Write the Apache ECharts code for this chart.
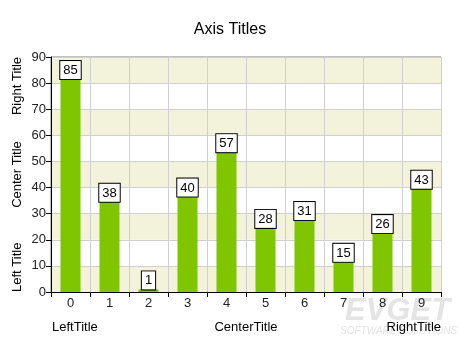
<!DOCTYPE html>
<html>
<head>
<meta charset="utf-8">
<script src="https://cdn.jsdelivr.net/npm/echarts@6/dist/echarts.min.js"></script>
<style>html,body{margin:0;padding:0;background:#fff}#c{width:460px;height:345px}</style>
</head>
<body>
<div id="c"></div>
<script>
var categories = ['0','1','2','3','4','5','6','7','8','9'];
var values = [85, 38, 1, 40, 57, 28, 31, 15, 26, 43];
var yMin = 0, yMax = 90, yInterval = 10;
var chartTitle = 'Axis Titles';
var yTitles = ['Left Title', 'Center Title', 'Right Title'];
var xTitles = ['LeftTitle', 'CenterTitle', 'RightTitle'];

var FONT = 'Liberation Sans, Arial, sans-serif';
var G = {left: 51, right: 441, top: 57, bottom: 292};

var chart = echarts.init(document.getElementById('c'), null, {renderer: 'canvas'});

var barData = values.map(function (v) {
  // labels are centred on the bar top unless that would push them below the axis
  var small = v < 4;
  return {value: v, label: {distance: small ? 0 : -9}};
});

chart.setOption({
  animation: false,
  backgroundColor: '#ffffff',
  title: {
    text: chartTitle, left: 'center', top: 17,
    textStyle: {fontFamily: FONT, fontSize: 16, fontWeight: 'normal', color: '#000'}
  },
  grid: {
    left: G.left, right: 460 - G.right, top: G.top, bottom: 345 - G.bottom,
    show: true, borderColor: '#808080', borderWidth: 1, backgroundColor: 'transparent'
  },
  xAxis: {
    type: 'category', data: categories, boundaryGap: true,
    axisLine: {lineStyle: {color: '#000', width: 1}},
    axisTick: {show: true, alignWithLabel: false, length: 5, lineStyle: {color: '#000'}},
    axisLabel: {color: '#222', fontFamily: FONT, fontSize: 13, margin: 5},
    splitLine: {show: true, lineStyle: {color: '#d0d0d0', width: 1}}
  },
  yAxis: {
    type: 'value', min: yMin, max: yMax, interval: yInterval,
    axisLine: {show: true, lineStyle: {color: '#000', width: 1}},
    axisTick: {show: true, length: 5, lineStyle: {color: '#000'}},
    axisLabel: {color: '#222', fontFamily: FONT, fontSize: 13, margin: 5},
    splitLine: {show: true, lineStyle: {color: '#d0d0d0', width: 1}},
    splitArea: {show: true, areaStyle: {color: ['#f3f3dc', '#ffffff']}}
  },
  graphic: [
    {type: 'text', x: 345, y: 296, z: -1, silent: true,
     style: {text: 'EVGET', fill: '#e4e4e4', font: 'italic bold 31px ' + FONT}},
    {type: 'text', x: 340, y: 326, z: -1, silent: true,
     style: {text: 'SOFTWARE SOLUTIONS', fill: '#e4e4e4', font: 'italic 10px ' + FONT}},
    {type: 'text', x: 17, y: G.bottom, rotation: Math.PI / 2,
     style: {text: yTitles[0], fill: '#000', font: '13px ' + FONT, textAlign: 'left', textVerticalAlign: 'middle'}},
    {type: 'text', x: 17, y: (G.top + G.bottom) / 2, rotation: Math.PI / 2,
     style: {text: yTitles[1], fill: '#000', font: '13px ' + FONT, textAlign: 'center', textVerticalAlign: 'middle'}},
    {type: 'text', x: 17, y: G.top, rotation: Math.PI / 2,
     style: {text: yTitles[2], fill: '#000', font: '13px ' + FONT, textAlign: 'right', textVerticalAlign: 'middle'}},
    {type: 'text', x: G.left + 1, y: 327,
     style: {text: xTitles[0], fill: '#000', font: '13px ' + FONT, textAlign: 'left', textVerticalAlign: 'middle'}},
    {type: 'text', x: (G.left + G.right) / 2, y: 327,
     style: {text: xTitles[1], fill: '#000', font: '13px ' + FONT, textAlign: 'center', textVerticalAlign: 'middle'}},
    {type: 'text', x: G.right, y: 327,
     style: {text: xTitles[2], fill: '#000', font: '13px ' + FONT, textAlign: 'right', textVerticalAlign: 'middle'}}
  ],
  series: [{
    type: 'bar', data: barData, barWidth: 20,
    itemStyle: {color: '#7fc500'},
    label: {
      show: true, position: 'top', color: '#000', fontFamily: FONT, fontSize: 13,
      backgroundColor: '#fff', borderColor: '#000', borderWidth: 1, padding: [3, 3, 2, 3]
    }
  }]
});
</script>
</body>
</html>
